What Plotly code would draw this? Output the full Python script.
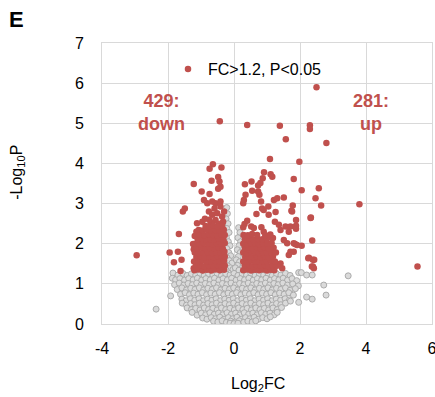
import plotly.graph_objects as go

# ---------------- data (log2 fold change, -log10 P) ----------------
# significantly down-regulated genes (FC>1.2, P<0.05, log2FC<0)
down_points = [
    (-0.43, 5.05), (-0.64, 3.98), (-0.74, 3.87), (-0.38, 3.90), (-0.68, 3.57), (-0.48, 3.66),
    (-0.44, 3.55), (-1.22, 3.49), (-0.98, 3.30), (-0.74, 3.24), (-0.48, 3.37), (-0.41, 3.42),
    (-0.91, 3.09), (-0.81, 3.01), (-0.66, 3.05), (-0.56, 3.01), (-0.41, 3.05), (-0.41, 2.93),
    (-0.59, 2.88), (-1.49, 2.88), (-1.55, 2.80), (-0.76, 2.80), (-0.66, 2.72), (-0.51, 2.76),
    (-0.36, 2.68), (-0.56, 2.59), (-1.12, 2.51), (-0.96, 2.55), (-0.86, 2.44), (-1.07, 2.34),
    (-1.14, 2.30), (-1.19, 2.19), (-1.24, 1.99), (-1.22, 1.86), (-1.67, 2.24), (-1.95, 1.78),
    (-1.70, 1.80), (-1.82, 1.54), (-1.59, 1.60), (-1.62, 1.32), (-1.22, 1.39), (-2.95, 1.71),
    (-0.30, 2.80), (-0.45, 2.50), (-0.70, 2.52), (-0.33, 2.55), (-0.88, 2.62), (-0.75, 2.60),
    (-1.20, 1.34), (-1.07, 1.36), (-0.95, 1.33), (-0.82, 1.35), (-0.69, 1.33), (-0.56, 1.36), (-0.43, 1.34), (-0.30, 1.35),
    (-1.15, 1.45), (-1.02, 1.47), (-0.89, 1.44), (-0.76, 1.46), (-0.63, 1.45), (-0.50, 1.47), (-0.37, 1.44), (-0.28, 1.46),
    (-1.21, 1.56), (-1.08, 1.55), (-0.95, 1.58), (-0.82, 1.56), (-0.69, 1.55), (-0.56, 1.57), (-0.43, 1.56), (-0.30, 1.58),
    (-1.14, 1.67), (-1.01, 1.69), (-0.88, 1.66), (-0.75, 1.68), (-0.62, 1.67), (-0.49, 1.69), (-0.36, 1.66), (-0.28, 1.68),
    (-1.19, 1.78), (-1.06, 1.77), (-0.93, 1.80), (-0.80, 1.78), (-0.67, 1.77), (-0.54, 1.79), (-0.41, 1.78), (-0.29, 1.80),
    (-1.12, 1.89), (-0.99, 1.91), (-0.86, 1.88), (-0.73, 1.90), (-0.60, 1.89), (-0.47, 1.91), (-0.34, 1.88),
    (-1.17, 2.00), (-1.04, 1.99), (-0.91, 2.02), (-0.78, 2.00), (-0.65, 1.99), (-0.52, 2.01), (-0.39, 2.00), (-0.28, 2.02),
    (-1.10, 2.11), (-0.97, 2.13), (-0.84, 2.10), (-0.71, 2.12), (-0.58, 2.11), (-0.45, 2.13), (-0.32, 2.10),
    (-1.03, 2.22), (-0.90, 2.21), (-0.77, 2.24), (-0.64, 2.22), (-0.51, 2.21), (-0.38, 2.23), (-0.28, 2.22),
    (-0.95, 2.33), (-0.82, 2.35), (-0.69, 2.32), (-0.56, 2.34), (-0.43, 2.33), (-0.31, 2.35),
    (-0.75, 2.43), (-0.62, 2.45), (-0.49, 2.42), (-0.36, 2.44),
]

# significantly up-regulated genes (FC>1.2, P<0.05, log2FC>0)
up_points = [
    (0.40, 4.96), (1.39, 4.94), (1.57, 4.60), (2.30, 4.95), (2.30, 4.86), (2.50, 5.90), (2.80, 4.51),
    (1.98, 4.04), (1.81, 3.61), (2.57, 3.38), (2.05, 3.33), (2.47, 3.13), (2.64, 2.95), (3.80, 2.98),
    (1.78, 2.95), (1.74, 2.82), (1.88, 2.59), (1.88, 2.45), (1.88, 2.37), (2.33, 2.65), (2.37, 2.08),
    (1.85, 1.99), (2.05, 1.95), (1.81, 1.80), (2.27, 1.65), (2.43, 1.60), (2.36, 1.43), (2.42, 1.39),
    (5.56, 1.43),
    (1.09, 4.11), (0.91, 3.78), (1.11, 3.73), (1.16, 3.67), (0.87, 3.63), (0.80, 3.51), (0.73, 3.45),
    (0.33, 3.48), (0.53, 3.55), (0.55, 3.32), (0.73, 3.30), (0.77, 3.22), (0.35, 3.22), (0.30, 3.09),
    (0.28, 3.01), (0.82, 3.05), (1.21, 3.09), (1.31, 3.13), (1.51, 3.15), (0.85, 2.88), (0.90, 2.84),
    (1.04, 2.93), (1.05, 2.72), (0.68, 2.74), (1.26, 2.79), (1.76, 2.80), (2.32, 2.64), (0.40, 2.57),
    (0.32, 2.49), (0.28, 2.41), (0.52, 2.43), (0.60, 2.39), (1.24, 2.55), (1.36, 2.47), (1.41, 2.34),
    (1.56, 2.43), (1.66, 2.30), (1.71, 2.43), (0.83, 2.41), (0.90, 2.30), (1.18, 2.14), (1.51, 2.09),
    (1.61, 2.01), (1.81, 2.01), (1.91, 1.97), (1.71, 1.80), (1.66, 1.72), (2.25, 1.64), (2.39, 1.60),
    (1.41, 1.51), (1.46, 1.39), (2.39, 1.43),
    (0.28, 1.34), (0.40, 1.36), (0.52, 1.33), (0.64, 1.35), (0.76, 1.34), (0.88, 1.36), (1.00, 1.33), (1.12, 1.35), (1.22, 1.34),
    (0.33, 1.45), (0.45, 1.47), (0.57, 1.44), (0.69, 1.46), (0.81, 1.45), (0.93, 1.47), (1.05, 1.44), (1.17, 1.46), (1.30, 1.45),
    (0.28, 1.56), (0.40, 1.55), (0.52, 1.58), (0.64, 1.56), (0.76, 1.55), (0.88, 1.57), (1.00, 1.56), (1.12, 1.58), (1.24, 1.56),
    (0.34, 1.67), (0.46, 1.69), (0.58, 1.66), (0.70, 1.68), (0.82, 1.67), (0.94, 1.69), (1.06, 1.66), (1.18, 1.68),
    (0.28, 1.78), (0.40, 1.77), (0.52, 1.80), (0.64, 1.78), (0.76, 1.77), (0.88, 1.79), (1.00, 1.78), (1.13, 1.80), (1.27, 1.78),
    (0.33, 1.89), (0.45, 1.91), (0.57, 1.88), (0.69, 1.90), (0.81, 1.89), (0.93, 1.91), (1.05, 1.88), (1.20, 1.90),
    (0.28, 2.00), (0.40, 1.99), (0.52, 2.02), (0.64, 2.00), (0.76, 1.99), (0.88, 2.01), (1.02, 2.00), (1.14, 2.02),
    (0.33, 2.11), (0.46, 2.13), (0.59, 2.10), (0.72, 2.12), (0.86, 2.11), (1.00, 2.13),
    (0.29, 2.22), (0.42, 2.21), (0.55, 2.24), (0.70, 2.22), (0.95, 2.21), (1.10, 2.23),
]

# not significant genes
ns_points = [
    # strip of small fold change with P<0.05
    (-0.22, 2.90), (-0.20, 2.75), (-0.24, 2.62), (-0.18, 2.50), (-0.22, 2.38), (-0.15, 2.28),
    (-0.23, 2.15), (-0.17, 2.05), (-0.12, 1.95), (-0.22, 1.88), (-0.16, 1.78), (-0.10, 1.70),
    (-0.21, 1.65), (-0.14, 1.58), (-0.06, 1.52), (-0.19, 1.45), (-0.11, 1.40), (-0.03, 1.36),
    (-0.24, 1.34), (0.14, 2.40), (0.18, 2.28), (0.12, 2.15), (0.20, 2.05), (0.15, 1.95),
    (0.10, 1.85), (0.19, 1.78), (0.13, 1.68), (0.07, 1.60), (0.17, 1.55), (0.11, 1.46),
    (0.04, 1.40), (0.22, 1.38), (0.15, 1.34),
    # P>0.05 cloud
    (-1.85, 1.27), (-1.70, 1.22), (-1.55, 1.26), (-1.42, 1.21), (-1.29, 1.25), (-1.16, 1.22), (-1.03, 1.26),
    (-0.90, 1.21), (-0.77, 1.25), (-0.64, 1.22), (-0.51, 1.26), (-0.38, 1.21), (-0.25, 1.25), (-0.12, 1.22),
    (0.00, 1.26), (0.12, 1.21), (0.25, 1.25), (0.38, 1.22), (0.51, 1.26), (0.64, 1.21), (0.77, 1.25),
    (0.90, 1.22), (1.03, 1.26), (1.16, 1.21), (1.29, 1.25), (1.42, 1.22), (1.56, 1.26), (1.70, 1.21),
    (1.96, 1.28), (2.04, 1.28), (2.20, 1.22), (2.37, 1.22), (3.46, 1.20),
    (-1.87, 1.14), (-1.77, 1.10), (-1.64, 1.13), (-1.50, 1.09), (-1.37, 1.13), (-1.24, 1.10), (-1.11, 1.14),
    (-0.98, 1.09), (-0.85, 1.13), (-0.72, 1.10), (-0.59, 1.14), (-0.46, 1.09), (-0.33, 1.13), (-0.20, 1.10),
    (-0.07, 1.14), (0.06, 1.09), (0.19, 1.13), (0.32, 1.10), (0.45, 1.14), (0.58, 1.09), (0.71, 1.13),
    (0.84, 1.10), (0.97, 1.14), (1.10, 1.09), (1.23, 1.13), (1.36, 1.10), (1.49, 1.14), (1.62, 1.09),
    (1.76, 1.13), (1.90, 1.08),
    (-1.80, 0.98), (-1.66, 1.02), (-1.52, 0.97), (-1.39, 1.01), (-1.26, 0.98), (-1.13, 1.02), (-1.00, 0.97),
    (-0.87, 1.01), (-0.74, 0.98), (-0.61, 1.02), (-0.48, 0.97), (-0.35, 1.01), (-0.22, 0.98), (-0.09, 1.02),
    (0.04, 0.97), (0.17, 1.01), (0.30, 0.98), (0.43, 1.02), (0.56, 0.97), (0.69, 1.01), (0.82, 0.98),
    (0.95, 1.02), (1.08, 0.97), (1.21, 1.01), (1.34, 0.98), (1.48, 1.02), (1.62, 0.97), (1.78, 1.00),
    (1.95, 0.95), (2.72, 0.97),
    (-1.72, 0.86), (-1.58, 0.90), (-1.44, 0.85), (-1.31, 0.89), (-1.18, 0.86), (-1.05, 0.90), (-0.92, 0.85),
    (-0.79, 0.89), (-0.66, 0.86), (-0.53, 0.90), (-0.40, 0.85), (-0.27, 0.89), (-0.14, 0.86), (-0.01, 0.90),
    (0.12, 0.85), (0.25, 0.89), (0.38, 0.86), (0.51, 0.90), (0.64, 0.85), (0.77, 0.89), (0.90, 0.86),
    (1.03, 0.90), (1.16, 0.85), (1.29, 0.89), (1.42, 0.86), (1.56, 0.90), (1.70, 0.84), (1.86, 0.88),
    (-1.92, 0.70), (-1.62, 0.74), (-1.48, 0.78), (-1.35, 0.73), (-1.22, 0.77), (-1.09, 0.74), (-0.96, 0.78),
    (-0.83, 0.73), (-0.70, 0.77), (-0.57, 0.74), (-0.44, 0.78), (-0.31, 0.73), (-0.18, 0.77), (-0.05, 0.74),
    (0.08, 0.78), (0.21, 0.73), (0.34, 0.77), (0.47, 0.74), (0.60, 0.78), (0.73, 0.73), (0.86, 0.77),
    (0.99, 0.74), (1.12, 0.78), (1.25, 0.73), (1.38, 0.77), (1.52, 0.74), (1.66, 0.78), (1.80, 0.72),
    (2.20, 0.67), (2.37, 0.62), (2.79, 0.72),
    (-1.58, 0.62), (-1.45, 0.58), (-1.32, 0.63), (-1.19, 0.59), (-1.06, 0.63), (-0.93, 0.58), (-0.80, 0.62),
    (-0.67, 0.59), (-0.54, 0.63), (-0.41, 0.58), (-0.28, 0.62), (-0.15, 0.59), (-0.02, 0.63), (0.11, 0.58),
    (0.24, 0.62), (0.37, 0.59), (0.50, 0.63), (0.63, 0.58), (0.76, 0.62), (0.89, 0.59), (1.02, 0.63),
    (1.15, 0.58), (1.28, 0.62), (1.41, 0.59), (1.55, 0.63), (1.68, 0.60), (1.96, 0.54),
    (-1.57, 0.52), (-1.44, 0.47), (-1.31, 0.51), (-1.18, 0.48), (-1.05, 0.52), (-0.92, 0.47), (-0.79, 0.51),
    (-0.66, 0.48), (-0.53, 0.52), (-0.40, 0.47), (-0.27, 0.51), (-0.14, 0.48), (-0.01, 0.52), (0.12, 0.47),
    (0.25, 0.51), (0.38, 0.48), (0.51, 0.52), (0.64, 0.47), (0.77, 0.51), (0.90, 0.48), (1.03, 0.52),
    (1.16, 0.47), (1.29, 0.51), (1.42, 0.48), (1.56, 0.52), (1.71, 0.57),
    (-2.36, 0.37), (-1.42, 0.40), (-1.29, 0.36), (-1.16, 0.39), (-1.03, 0.35), (-0.90, 0.40), (-0.77, 0.36),
    (-0.64, 0.39), (-0.51, 0.35), (-0.38, 0.40), (-0.25, 0.36), (-0.12, 0.39), (0.01, 0.35), (0.14, 0.40),
    (0.27, 0.36), (0.40, 0.39), (0.53, 0.35), (0.66, 0.40), (0.79, 0.36), (0.92, 0.39), (1.05, 0.35),
    (1.18, 0.40), (1.31, 0.36), (1.44, 0.41),
    (-1.27, 0.29), (-1.12, 0.22), (-0.99, 0.27), (-0.86, 0.23), (-0.73, 0.28), (-0.60, 0.24), (-0.47, 0.27),
    (-0.34, 0.23), (-0.21, 0.28), (-0.08, 0.24), (0.05, 0.27), (0.18, 0.23), (0.31, 0.28), (0.44, 0.24),
    (0.57, 0.27), (0.70, 0.23), (0.83, 0.28), (0.96, 0.24), (1.09, 0.27), (1.22, 0.23), (1.31, 0.29),
    (-0.95, 0.15), (-0.82, 0.12), (-0.69, 0.16), (-0.56, 0.13), (-0.43, 0.17), (-0.30, 0.12), (-0.17, 0.16),
    (-0.04, 0.13), (0.09, 0.17), (0.22, 0.12), (0.35, 0.16), (0.48, 0.13), (0.61, 0.17), (0.74, 0.12),
    (0.87, 0.16), (1.00, 0.13), (1.10, 0.18),
    (-0.62, 0.07), (-0.49, 0.05), (-0.36, 0.08), (-0.23, 0.04), (-0.10, 0.07), (0.03, 0.05), (0.16, 0.08),
    (0.29, 0.04), (0.42, 0.07), (0.55, 0.05), (0.66, 0.08),
    (-0.12, 0.02), (0.00, 0.01), (0.12, 0.02),
]

x_tickvals = [-4, -2, 0, 2, 4, 6]
x_ticktext = ["-4", "-2", "0", "2", "4", "6"]
y_tickvals = [0, 1, 2, 3, 4, 5, 6, 7]
down_label = "429:<br>down"
up_label = "281:<br>up"
legend_name = "FC>1.2, P<0.05"

# ---------------- figure ----------------
RED = "#C0504D"
FONT = "Liberation Sans, Arial, sans-serif"

ns_x, ns_y = zip(*ns_points)
sig_points = down_points + up_points
sig_x, sig_y = zip(*sig_points)

fig = go.Figure()
fig.add_trace(go.Scatter(
    x=list(ns_x), y=list(ns_y), mode="markers", showlegend=False, hoverinfo="skip",
    marker=dict(size=6, color="#DADADA", line=dict(color="#ABABAB", width=1)),
))
fig.add_trace(go.Scatter(
    x=list(sig_x), y=list(sig_y), mode="markers", name=legend_name, showlegend=True,
    marker=dict(size=6.5, color=RED, line=dict(width=0)),
))

axis_common = dict(
    showgrid=True, gridcolor="#D9D9D9", gridwidth=1, zeroline=False,
    showline=True, linecolor="#D9D9D9", linewidth=1, mirror=True,
    ticks="", tickfont=dict(family=FONT, size=16, color="#000000"),
    ticklabeloverflow="allow", automargin=False,
)

fig.update_layout(
    width=435, height=397,
    margin=dict(l=102, r=3, t=43, b=73),
    paper_bgcolor="white", plot_bgcolor="white",
    font=dict(family=FONT, size=16, color="#000000"),
    xaxis=dict(range=[-4, 6], tickvals=x_tickvals, ticktext=x_ticktext,
               ticklabelstandoff=10, **axis_common),
    yaxis=dict(range=[0, 7], tickvals=y_tickvals, ticklabelstandoff=14, **axis_common),
    showlegend=True,
    legend=dict(x=0.2, y=0.968, xanchor="left", yanchor="top",
                bgcolor="rgba(0,0,0,0)", font=dict(family=FONT, size=16, color="#000000"),
                itemsizing="trace", itemwidth=30),
    annotations=[
        dict(text="<b>E</b>", xref="paper", yref="paper", x=-0.258, y=1.082,
             xanchor="center", yanchor="middle", showarrow=False,
             font=dict(family=FONT, size=22, color="#000000")),
        dict(text="Log<sub>2</sub>FC", xref="paper", yref="paper", x=0.473, y=-0.217,
             xanchor="center", yanchor="middle", showarrow=False,
             font=dict(family=FONT, size=16, color="#000000")),
        dict(text="-Log<sub>10</sub>P", xref="paper", yref="paper", x=-0.255, y=0.541,
             xanchor="center", yanchor="middle", showarrow=False, textangle=-90,
             font=dict(family=FONT, size=16, color="#000000")),
        dict(text="<b>" + down_label.replace("<br>", "</b><br><b>") + "</b>", xref="paper", yref="paper",
             x=0.179, y=0.751, xanchor="center", yanchor="middle", showarrow=False, align="center",
             font=dict(family=FONT, size=18, color=RED)),
        dict(text="<b>" + up_label.replace("<br>", "</b><br><b>") + "</b>", xref="paper", yref="paper",
             x=0.815, y=0.751, xanchor="center", yanchor="middle", showarrow=False, align="center",
             font=dict(family=FONT, size=18, color=RED)),
    ],
)

fig.write_html("out.html")
